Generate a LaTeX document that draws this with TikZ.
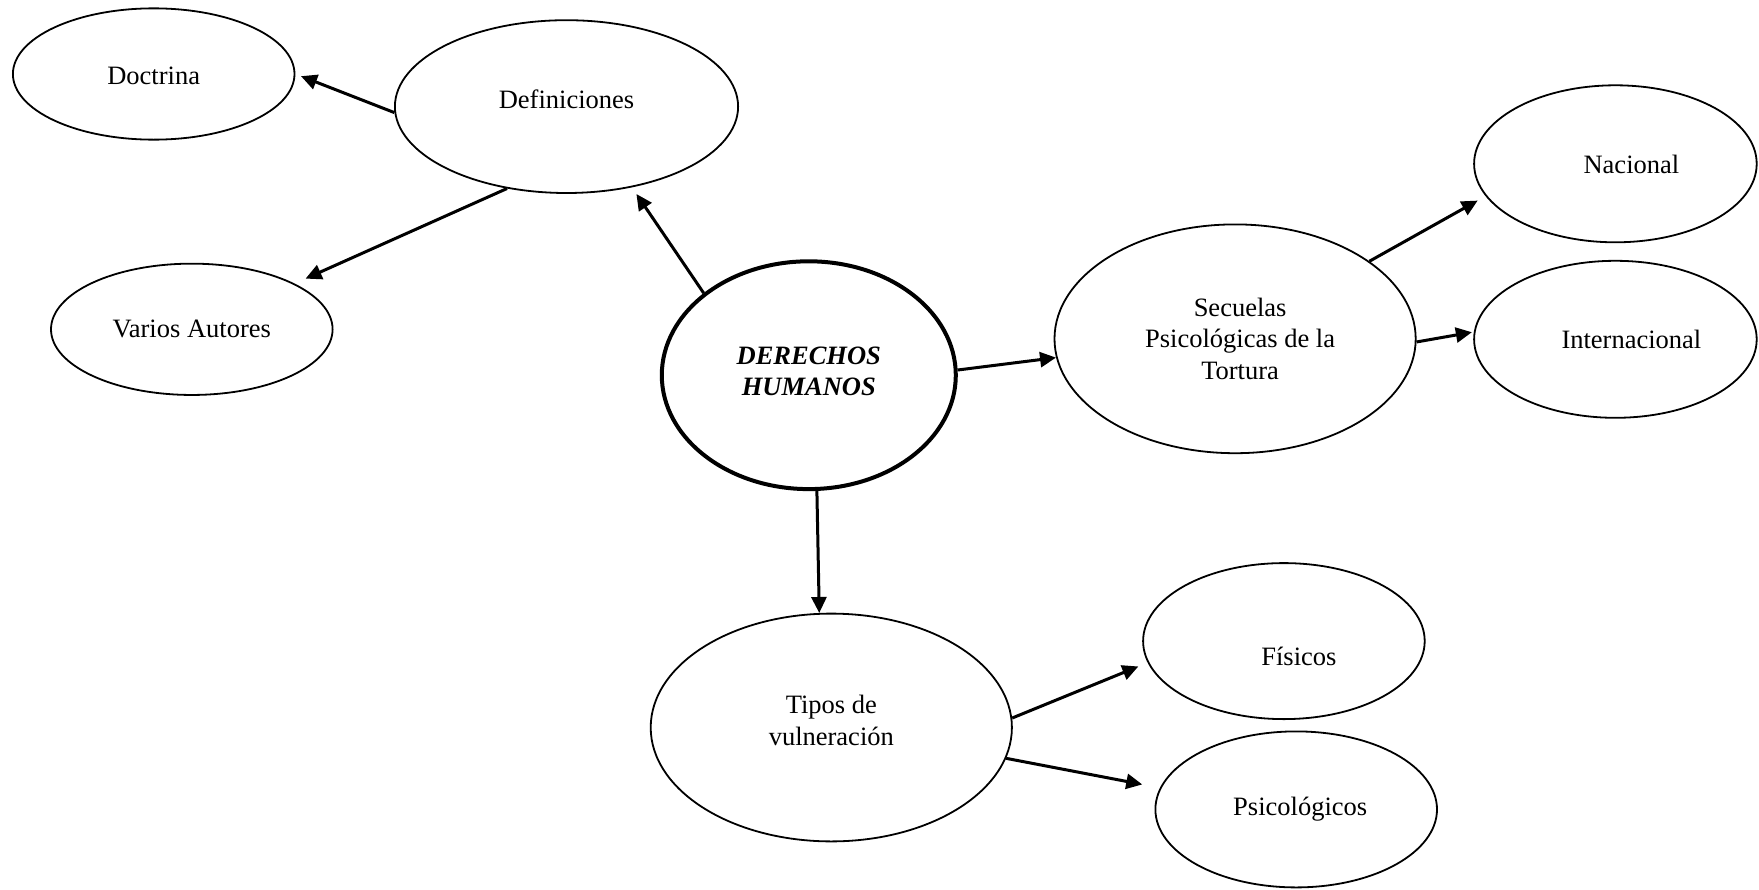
\documentclass[tikz,border=0pt]{standalone}
\usepackage{fontspec}
\setmainfont{Liberation Serif}
\usetikzlibrary{shapes.geometric,arrows.meta}
\begin{document}
\begin{tikzpicture}[x=1pt,y=-1pt,
  ell/.style={draw, ellipse, inner sep=0pt, line width=1.8pt},
  txt/.style={font=\fontsize{26.5}{31.4}\selectfont, align=center},
  arr/.style={-{Triangle[length=16pt,width=15pt]}, line width=3pt},
]
\useasboundingbox (0,0) rectangle (1759,889);
\node[ell, minimum width=281.6pt, minimum height=131.3pt,
  label={[txt,yshift=-2pt]center:Doctrina}] (doc) at (153.7,74) {};
\node[ell, minimum width=343.2pt, minimum height=172.8pt,
  label={[txt,yshift=7pt]center:Definiciones}] (def) at (566.5,106.6) {};
\node[ell, minimum width=281.6pt, minimum height=131.3pt,
  label={[txt]center:Varios Autores}] (var) at (191.8,329.3) {};
\node[ell, line width=4pt, minimum width=294pt, minimum height=227.8pt,
  label={[txt,font=\fontsize{26.5}{31.4}\selectfont\bfseries\itshape,yshift=4pt]center:DERECHOS\\HUMANOS}] (dh) at (808.8,375.2) {};
\node[ell, minimum width=361.2pt, minimum height=228.8pt,
  label={[txt,xshift=5pt]center:Secuelas\\Psicológicas de la\\Tortura}] (sec) at (1235.1,338.8) {};
\node[ell, minimum width=282.6pt, minimum height=157pt,
  label={[txt,xshift=16pt,yshift=-1pt]center:Nacional}] (nac) at (1615.4,163.8) {};
\node[ell, minimum width=282.6pt, minimum height=157pt,
  label={[txt,xshift=16pt]center:Internacional}] (int) at (1615.4,339.3) {};
\node[ell, minimum width=361.2pt, minimum height=227.8pt,
  label={[txt,yshift=7pt]center:Tipos de\\vulneración}] (tip) at (831.3,727.5) {};
\node[ell, minimum width=281.6pt, minimum height=156pt,
  label={[txt,xshift=15pt,yshift=-15pt]center:Físicos}] (fis) at (1283.9,641.1) {};
\node[ell, minimum width=281.6pt, minimum height=156pt,
  label={[txt,xshift=4pt]center:Psicológicos}] (psi) at (1296.2,809.4) {};

\draw[arr, shorten >=6pt] (def.182.7) -- (doc.-0.9);
\draw[arr, shorten >=12pt] (def.234) -- (var.24.7);
\draw[arr, shorten >=8pt] (dh.142.4) -- (def.-51.6);
\draw[arr] (dh.2.8) -- (sec.186.5);
\draw[arr, shorten >=9pt] (sec.30.1) -- (nac.194.3);
\draw[arr, shorten >=2pt] (sec.-1.8) -- (int.177.9);
\draw[arr] (dh.-86.6) -- (tip.96.8);
\draw[arr, shorten >=10pt] (tip.3) -- (fis.189);
\draw[arr, shorten >=18pt] (tip.-10) -- (psi.171.3);
\end{tikzpicture}
\end{document}
